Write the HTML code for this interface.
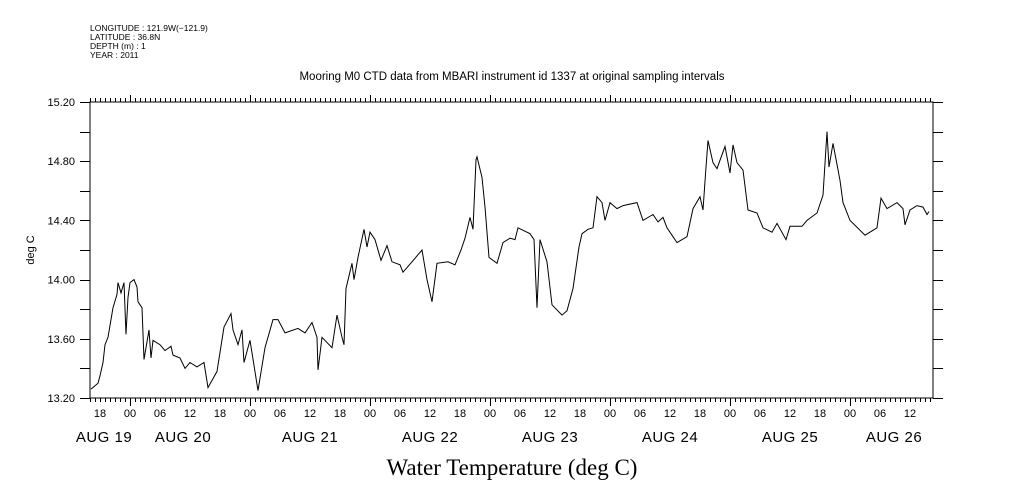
<!DOCTYPE html>
<html><head><meta charset="utf-8">
<style>
html,body{margin:0;padding:0;background:#fff;}
svg{display:block;font-family:"Liberation Sans",sans-serif;}
</style></head>
<body>
<svg id="chart" width="1009" height="504" viewBox="0 0 1009 504" xmlns="http://www.w3.org/2000/svg">
<g font-size="8.5" fill="#000">
<text x="90" y="31">LONGITUDE : 121.9W(−121.9)</text>
<text x="90" y="40">LATITUDE : 36.8N</text>
<text x="90" y="49">DEPTH (m) : 1</text>
<text x="90" y="58">YEAR : 2011</text>
</g>
<text x="512" y="80" text-anchor="middle" font-size="11.5">Mooring M0 CTD data from MBARI instrument id 1337 at original sampling intervals</text>
<text transform="translate(34,250) rotate(-90)" text-anchor="middle" font-size="11">deg C</text>
<text x="512" y="475" text-anchor="middle" font-size="23" font-family="Liberation Serif, serif">Water Temperature (deg C)</text>
<g id="axes"></g>
<path id="line" fill="none" stroke="#000" stroke-width="1"/>
</svg>
<script>
const hours=[0.2,1.6,2.0,2.6,3.0,3.6,4.0,4.6,5.4,5.6,6.2,6.8,7.2,7.6,8.0,8.8,9.4,9.6,10.4,10.8,11.8,12.2,12.6,14.0,15.0,16.2,16.6,18.0,19.0,20.0,21.4,22.8,23.6,25.4,26.8,28.2,28.6,29.6,30.4,30.8,32.0,33.6,35.0,36.6,37.6,39.0,41.6,43.0,44.4,45.4,45.6,46.4,48.4,49.4,50.4,50.8,51.2,52.4,52.8,53.6,54.8,55.4,56.0,57.0,58.2,59.4,60.4,62.0,62.6,64.4,66.4,67.4,68.4,69.4,71.6,73.0,74.2,75.0,76.0,76.6,77.2,77.4,78.4,79.0,79.8,81.4,82.6,84.0,85.0,85.6,88.0,88.8,89.4,90.0,91.4,92.4,94.4,95.4,96.6,97.8,98.4,99.6,100.6,101.4,102.4,103.0,104.0,105.4,106.6,109.4,110.6,112.6,113.6,114.6,115.4,116.6,117.4,119.4,120.6,122.0,122.6,123.2,123.6,124.6,125.4,127.0,128.0,128.6,129.4,130.6,131.6,133.4,134.6,136.4,137.4,139.2,140.0,142.4,143.4,145.4,146.6,147.4,147.8,148.6,150.0,150.6,152.0,155.0,157.4,158.2,159.4,161.4,162.6,163.0,164.0,165.4,166.6,167.4,167.8];
const temps=[13.26,13.30,13.35,13.44,13.56,13.61,13.69,13.81,13.90,13.98,13.91,13.98,13.63,13.88,13.98,14.00,13.95,13.85,13.81,13.46,13.66,13.47,13.59,13.56,13.52,13.55,13.49,13.47,13.40,13.44,13.41,13.44,13.27,13.38,13.68,13.77,13.66,13.56,13.66,13.44,13.59,13.25,13.54,13.73,13.73,13.64,13.67,13.64,13.71,13.61,13.39,13.61,13.54,13.76,13.61,13.56,13.94,14.11,14.00,14.15,14.34,14.22,14.32,14.27,14.13,14.23,14.12,14.10,14.05,14.12,14.20,14.00,13.85,14.11,14.12,14.10,14.20,14.28,14.42,14.34,14.81,14.83,14.69,14.49,14.15,14.11,14.25,14.28,14.27,14.35,14.31,14.27,13.81,14.27,14.12,13.83,13.76,13.79,13.94,14.22,14.31,14.34,14.35,14.56,14.52,14.40,14.52,14.48,14.50,14.52,14.40,14.44,14.39,14.42,14.35,14.29,14.25,14.29,14.48,14.56,14.47,14.76,14.94,14.79,14.75,14.90,14.72,14.91,14.79,14.74,14.47,14.45,14.35,14.32,14.38,14.27,14.36,14.36,14.40,14.45,14.57,15.00,14.76,14.92,14.67,14.52,14.40,14.30,14.35,14.55,14.48,14.52,14.48,14.37,14.47,14.50,14.49,14.44,14.46];
const yTicks=[13.20,13.60,14.00,14.40,14.80,15.20];
const hourLabels=["18","00","06","12","18","00","06","12","18","00","06","12","18","00","06","12","18","00","06","12","18","00","06","12","18","00","06","12","18","00","06","12"];
const dateLabels=["AUG 19","AUG 20","AUG 21","AUG 22","AUG 23","AUG 24","AUG 25","AUG 26"];
const datePos=[2.8,18.6,44,68,92,116,140,160.8]; // hours from start where label is centred

const X0=90,X1=933,Y0=102,Y1=398,PXH=5,YMIN=13.2,YMAX=15.2,NH=(X1-X0)/PXH;
const xs=h=>X0+h*PXH;
const ys=v=>Y1-(v-YMIN)/(YMAX-YMIN)*(Y1-Y0);
const NS="http://www.w3.org/2000/svg";
const g=document.getElementById('axes');
function mk(tag,attrs,parent){const e=document.createElementNS(NS,tag);for(const k in attrs)e.setAttribute(k,attrs[k]);(parent||g).appendChild(e);return e;}
let d=`M${X0} ${Y0}H${X1}V${Y1}H${X0}Z`;
for(let h=0;h<=NH;h++){const x=xs(h)+0.5;const hod=(h+16)%24;
 const big=hod===0;
 d+=`M${x} ${Y0}v${big?-7:-4}`;
 d+=`M${x} ${Y1}v${big?8:4}`;
}
for(let v=13.2;v<=15.21;v+=0.2){const y=Math.round(ys(v))+0.5;d+=`M${X0-10} ${y}h10M${X1} ${y}h10`;}
const ax=mk('path',{d:d,fill:'none',stroke:'#000','stroke-width':1});


yTicks.forEach(v=>{const t=mk('text',{x:75,y:ys(v)+4,'text-anchor':'end','font-size':11});t.textContent=v.toFixed(2);
 
 });
hourLabels.forEach((s,i)=>{const h=2+i*6;if(h>NH)return;const t=mk('text',{x:xs(h),y:417,'text-anchor':'middle','font-size':11});t.textContent=s;
 
 });
dateLabels.forEach((s,i)=>{const t=mk('text',{x:xs(datePos[i]),y:442,'text-anchor':'middle','font-size':15,'letter-spacing':'0.5'});t.textContent=s;
 
 });
document.getElementById('line').setAttribute('d',hours.map((h,i)=>(i?'L':'M')+xs(h).toFixed(1)+' '+ys(temps[i]).toFixed(1)).join(''));
</script>
</body></html>
